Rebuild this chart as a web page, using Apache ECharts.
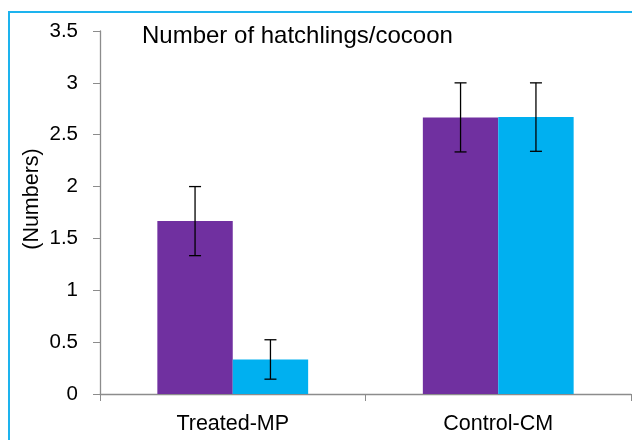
<!DOCTYPE html>
<html><head><meta charset="utf-8">
<script src="https://cdn.jsdelivr.net/npm/echarts@6/dist/echarts.min.js"></script>
<style>html,body{margin:0;padding:0;background:#fff}#c{width:632px;height:440px}</style>
</head><body><div id="c"></div>
<script>
const categories = ['Treated-MP', 'Control-CM'];
const seriesA = [1.667, 2.667];
const seriesB = [0.333, 2.670];
const errA = [0.333, 0.333];
const errB = [0.19, 0.33];
const yTicks = { min: 0, max: 3.5, interval: 0.5 };
const titleText = 'Number of hatchlings/cocoon';
const yName = '(Numbers)';

const FONT = 'Liberation Sans';
const BAR_FRAC = 0.284;

function errSeries(vals, errs, side) {
  return {
    type: 'custom',
    z: 10,
    data: vals.map((v, i) => [i, v, errs[i]]),
    renderItem: function (params, api) {
      const idx = api.value(0), v = api.value(1), e = api.value(2);
      const band = api.size([1, 0])[0];
      const off = side * band * BAR_FRAC / 2;
      const top = api.coord([idx, v + e]);
      const bot = api.coord([idx, v - e]);
      const x = top[0] + off;
      const cw = 6;
      const st = { stroke: '#000', lineWidth: 1.3 };
      return { type: 'group', children: [
        { type: 'line', shape: { x1: x, y1: top[1], x2: x, y2: bot[1] }, style: st },
        { type: 'line', shape: { x1: x - cw, y1: top[1], x2: x + cw, y2: top[1] }, style: st },
        { type: 'line', shape: { x1: x - cw, y1: bot[1], x2: x + cw, y2: bot[1] }, style: st }
      ]};
    }
  };
}

const chart = echarts.init(document.getElementById('c'), null, { renderer: 'canvas' });
chart.setOption({
  animation: false,
  textStyle: { fontFamily: FONT },
  title: { text: titleText, left: 137, top: 19, textStyle: { fontFamily: FONT, fontSize: 24, fontWeight: 'normal', color: '#000' } },
  graphic: [{ type: 'rect', shape: { x: 9, y: 12, width: 640, height: 460 }, style: { fill: 'none', stroke: '#1DB3EE', lineWidth: 2 }, z: 100 }],
  grid: { left: 100, right: 1, top: 31, bottom: 46 },
  xAxis: {
    type: 'category', data: categories,
    axisLine: { lineStyle: { color: '#8c8c8c', width: 1.3 } },
    axisTick: { show: true, length: 7, lineStyle: { color: '#8c8c8c' } },
    axisLabel: { color: '#000', fontSize: 21.5, margin: 19, fontFamily: FONT }
  },
  yAxis: {
    type: 'value', min: yTicks.min, max: yTicks.max, interval: yTicks.interval,
    name: yName, nameLocation: 'middle', nameGap: 57, nameRotate: 90, nameMoveOverlap: false,
    nameTextStyle: { fontSize: 21.5, color: '#000', fontFamily: FONT, padding: [0, 0, 0, 27] },
    axisLine: { show: true, lineStyle: { color: '#8c8c8c', width: 1.3 } },
    axisTick: { show: true, length: 7, lineStyle: { color: '#8c8c8c' } },
    splitLine: { show: false },
    axisLabel: { color: '#000', fontSize: 20.5, margin: 22, fontFamily: FONT }
  },
  series: [
    { type: 'bar', data: seriesA, barWidth: (BAR_FRAC * 100) + '%', barGap: '0%', itemStyle: { color: '#7030A0' } },
    { type: 'bar', data: seriesB, barWidth: (BAR_FRAC * 100) + '%', barGap: '0%', itemStyle: { color: '#00B0F0' } },
    errSeries(seriesA, errA, -1),
    errSeries(seriesB, errB, 1)
  ]
});
</script></body></html>
